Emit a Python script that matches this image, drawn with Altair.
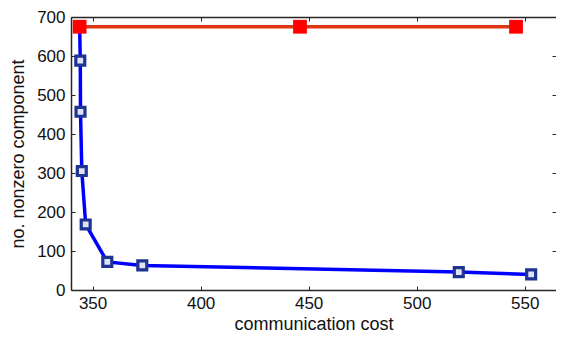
import altair as alt
import pandas as pd

blue_x = [344, 344.3, 344.4, 345, 346.8, 356.8, 373, 519.5, 553]
blue_y = [675, 588, 457, 305, 168, 72, 63, 46, 40]
red_x = [344, 446, 546]
red_y = [675, 675, 675]

x_ticks = [350, 400, 450, 500, 550]
y_ticks = [0, 100, 200, 300, 400, 500, 600, 700]

blue = pd.DataFrame({"x": blue_x, "y": blue_y, "i": list(range(len(blue_x)))})
red = pd.DataFrame({"x": red_x, "y": red_y, "i": list(range(len(red_x)))})

xs = alt.Scale(domain=[340, 564.5], nice=False, zero=False)
ys = alt.Scale(domain=[0, 700], nice=False)

FONT = "Liberation Sans"
FRAME = "#262626"
tick_only = dict(tickSize=4, offset=-4, domain=False, grid=False, tickColor=FRAME, tickWidth=1)
frame_only = dict(domain=True, domainColor=FRAME, domainWidth=1.5, ticks=False,
                  labels=False, title=None, grid=False)

x_bottom = alt.Axis(orient="bottom", values=x_ticks, labelPadding=5, labelFontSize=17,
                    labelFont=FONT, labelColor="#111", title="communication cost",
                    titleFont=FONT, titleFontSize=18, titleFontWeight="normal",
                    titleColor="#111", titlePadding=4, **tick_only)
y_left = alt.Axis(orient="left", values=y_ticks, labelPadding=6, labelFontSize=17,
                  labelFont=FONT, labelColor="#111", title="no. nonzero component",
                  titleFont=FONT, titleFontSize=18, titleFontWeight="normal",
                  titleColor="#111", titlePadding=9, **tick_only)
x_top = alt.Axis(orient="top", values=x_ticks, labels=False, title=None, **tick_only)
y_right = alt.Axis(orient="right", values=y_ticks, labels=False, title=None, **tick_only)
x_bottom_frame = alt.Axis(orient="bottom", **frame_only)
y_left_frame = alt.Axis(orient="left", **frame_only)
x_top_frame = alt.Axis(orient="top", **frame_only)

blue_line = alt.Chart(blue).mark_line(color="#0000ff", strokeWidth=3.5).encode(
    x=alt.X("x:Q", scale=xs, axis=x_bottom),
    y=alt.Y("y:Q", scale=ys, axis=y_left),
    order="i:Q",
)
blue_pts = alt.Chart(blue).mark_point(shape="square", size=80, filled=False,
                                      color="#1f3490", strokeWidth=3.2, fill="#dfe3f5",
                                      fillOpacity=1, opacity=1).encode(
    x=alt.X("x:Q", scale=xs, axis=x_bottom_frame),
    y=alt.Y("y:Q", scale=ys, axis=y_left_frame),
)
red_line = alt.Chart(red).mark_line(color="#de3512", strokeWidth=3.5).encode(
    x=alt.X("x:Q", scale=xs, axis=x_top),
    y=alt.Y("y:Q", scale=ys, axis=y_right),
    order="i:Q",
)
red_pts = alt.Chart(red).mark_point(shape="square", size=190, filled=True,
                                    color="#ff0000", opacity=1).encode(
    x=alt.X("x:Q", scale=xs, axis=x_top_frame),
    y=alt.Y("y:Q", scale=ys, axis=None),
)

chart = alt.layer(blue_line, blue_pts, red_line, red_pts).resolve_axis(
    x="independent", y="independent"
).properties(
    width=485, height=273,
    autosize=alt.AutoSizeParams(type="none"),
    padding={"left": 63, "top": 9, "right": 0, "bottom": 43},
    background="white",
).configure_view(stroke=None)

chart.save("out.html", embed_options={"renderer": "svg", "actions": False})
